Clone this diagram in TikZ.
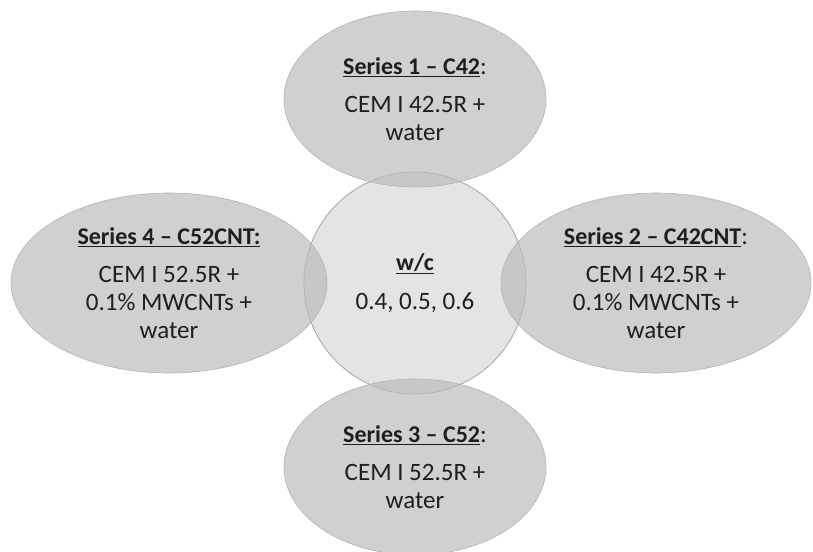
\documentclass[tikz,border=0pt]{standalone}
\usepackage{fontspec}
\setmainfont{Carlito}
\usetikzlibrary{positioning, shapes.geometric}
\definecolor{seriesfill}{HTML}{BCBCBC}
\definecolor{seriesedge}{HTML}{B2B2B2}
\definecolor{hubfill}{HTML}{E4E4E4}
\definecolor{hubedge}{HTML}{A4A4A4}
\definecolor{labeltext}{HTML}{1E1E1E}
\tikzset{
  hub/.style={circle, draw=hubedge, fill=hubfill, line width=0.8pt,
              minimum size=222pt, inner sep=0pt, outer sep=0pt, align=center,
              text=labeltext, font=\fontsize{25}{28}\selectfont},
  seriesell/.style={ellipse, draw=seriesedge, fill=seriesfill, fill opacity=0.7,
              text opacity=1, line width=0.6pt, inner sep=0pt, outer sep=0pt,
              align=center, text=labeltext, font=\fontsize{25}{28}\selectfont},
  wideell/.style={seriesell, minimum width=316pt, minimum height=180pt},
  tallell/.style={seriesell, minimum width=262pt, minimum height=176pt},
}
\newcommand{\seriestitle}[1]{{\fontsize{24}{28}\selectfont\textbf{\underline{#1}}}}

\begin{document}
\begin{tikzpicture}[x=1pt, y=-1pt]
  \useasboundingbox (0,0) rectangle (813,551);
  \node[hub] (wc) at (415,283) {\seriestitle{w/c}\\[11pt] 0.4, 0.5, 0.6};
  \node[tallell, above=-15pt of wc] (s1) {\seriestitle{Series 1 – C42}:\\[10pt]
    CEM I 42.5R +\\ water};
  \node[wideell, right=-25pt of wc, minimum width=310pt] (s2)
    {\seriestitle{Series 2 – C42CNT}:\\[10pt] CEM I 42.5R +\\ 0.1\% MWCNTs +\\ water};
  \node[tallell, below=-15pt of wc] (s3) {\seriestitle{Series 3 – C52}:\\[10pt]
    CEM I 52.5R +\\ water};
  \node[wideell, left=-23pt of wc] (s4)
    {\seriestitle{Series 4 – C52CNT:}\\[10pt] CEM I 52.5R +\\ 0.1\% MWCNTs +\\ water};
\end{tikzpicture}
\end{document}
